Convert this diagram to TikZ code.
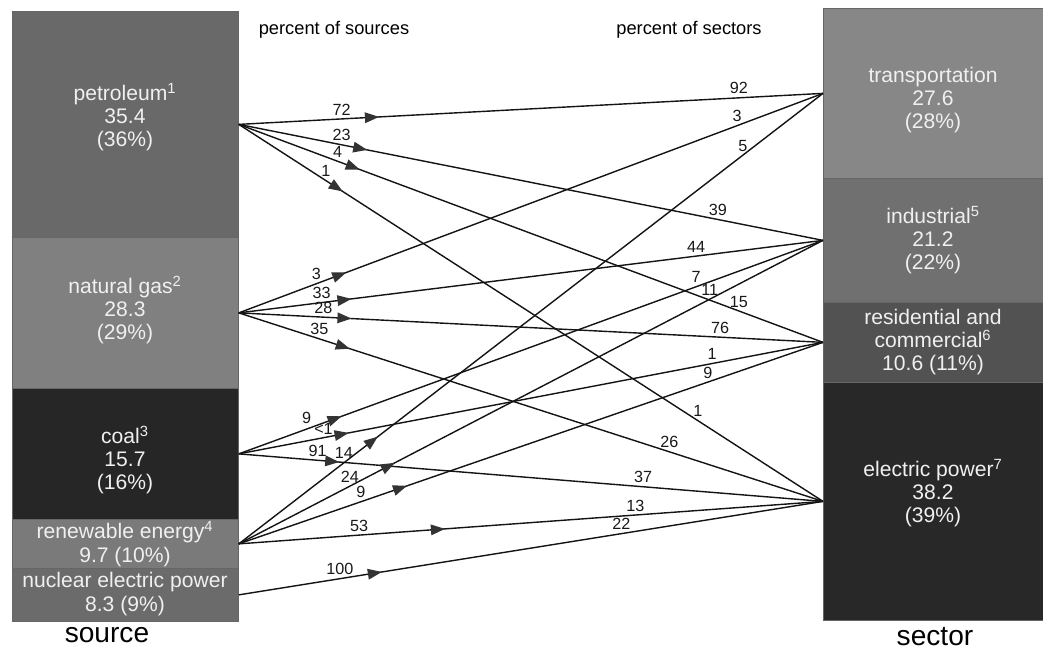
\documentclass[tikz,border=0pt]{standalone}
\usepackage{fontspec}
\setmainfont{Liberation Sans}
\usetikzlibrary{arrows.meta,decorations.markings}

\definecolor{petrolgray}{gray}{0.41}
\definecolor{gasgray}{gray}{0.50}
\definecolor{coalgray}{gray}{0.15}
\definecolor{renewgray}{gray}{0.48}
\definecolor{nucleargray}{gray}{0.42}
\definecolor{transgray}{gray}{0.53}
\definecolor{industgray}{gray}{0.44}
\definecolor{residgray}{gray}{0.32}
\definecolor{elecgray}{gray}{0.155}

\tikzset{
	block/.style={draw=black!60, line width=0.5pt, inner sep=0pt, anchor=north west},
	blocktext/.style={text=white!94!black, align=center, font=\fontsize{15}{16.5}\selectfont},
	link/.style={draw=black!92, line width=1pt},
	arrowat/.style={postaction={decorate}, decoration={markings,
		mark=at position #1 with {\arrow[black!80]{Triangle[length=10pt,width=7.5pt]}}}},
	share/.style={font=\fontsize{11.5}{13}\selectfont, above, inner sep=2.2pt, text=black!90},
	heading/.style={font=\fontsize{13}{15}\selectfont},
	axistitle/.style={font=\fontsize{20}{24}\selectfont}
}

\begin{document}
\begin{tikzpicture}[x=0.025cm, y=-0.025cm]
		\useasboundingbox (0,0) rectangle (1043,651);

		% source column
		\node[block, fill=petrolgray, minimum width=5.65cm, minimum height=5.65cm] (petroleum) at (12,11) {};
		\node[block, fill=gasgray, minimum width=5.65cm, minimum height=3.775cm] (gas) at (12,237) {};
		\node[block, fill=coalgray, minimum width=5.65cm, minimum height=3.275cm] (coal) at (12,388) {};
		\node[block, fill=renewgray, minimum width=5.65cm, minimum height=1.225cm] (renewable) at (12,519) {};
		\node[block, fill=nucleargray, minimum width=5.65cm, minimum height=1.325cm] (nuclear) at (12,568) {};

		\node[blocktext] (petroleum-text) at (125,117) {petroleum\textsuperscript{1}\\35.4\\(36\%)};
		\node[blocktext] (gas-text) at (125,310) {natural gas\textsuperscript{2}\\28.3\\(29\%)};
		\node[blocktext] (coal-text) at (125,460) {coal\textsuperscript{3}\\15.7\\(16\%)};
		\node[blocktext] (renewable-text) at (125,544) {renewable energy\textsuperscript{4}\\9.7 (10\%)};
		\node[blocktext] (nuclear-text) at (125,594) {nuclear electric power\\8.3 (9\%)};

		% sector column
		\node[block, fill=transgray, minimum width=5.5cm, minimum height=4.25cm] (transportation) at (823,8) {};
		\node[block, fill=industgray, minimum width=5.5cm, minimum height=3.1cm] (industrial) at (823,178) {};
		\node[block, fill=residgray, minimum width=5.5cm, minimum height=2cm] (residential) at (823,302) {};
		\node[block, fill=elecgray, minimum width=5.5cm, minimum height=5.95cm] (electric) at (823,382) {};

		\node[blocktext] (transportation-text) at (933,100) {transportation\\27.6\\(28\%)};
		\node[blocktext] (industrial-text) at (933,240) {industrial\textsuperscript{5}\\21.2\\(22\%)};
		\node[blocktext] (residential-text) at (933,342) {residential and\\commercial\textsuperscript{6}\\10.6 (11\%)};
		\node[blocktext] (electric-text) at (933,493) {electric power\textsuperscript{7}\\38.2\\(39\%)};

		% titles
		\node[heading] (sources-title) at (334,30) {percent of sources};
		\node[heading] (sectors-title) at (689,30) {percent of sectors};
		\node[axistitle] (source-title) at (107,635) {source};
		\node[axistitle] (sector-title) at (935,637) {sector};

		% petroleum
		\draw[link, arrowat=0.24] (petroleum.east) -- node[share, pos=0.176] (pt-a) {72} node[share, pos=0.856] (pt-b) {92} (transportation.west);
		\draw[link, arrowat=0.22] (petroleum.east) -- node[share, pos=0.176] (pi-a) {23} node[share, pos=0.82] (pi-b) {39} (industrial.west);
		\draw[link, arrowat=0.207] (petroleum.east) -- node[share, pos=0.169] (pr-a) {4} node[share, pos=0.856] (pr-b) {15} (residential.west);
		\draw[link, arrowat=0.178] (petroleum.east) -- node[share, pos=0.149] (pe-a) {1} node[share, pos=0.786] (pe-b) {1} (electric.west);
		% natural gas
		\draw[link, arrowat=0.184] (gas.east) -- node[share, pos=0.133] (gt-a) {3} node[share, pos=0.853] (gt-b) {3} (transportation.west);
		\draw[link, arrowat=0.193] (gas.east) -- node[share, pos=0.142] (gi-a) {33} node[share, pos=0.783] (gi-b) {44} (industrial.west);
		\draw[link, arrowat=0.193] (gas.east) -- node[share, pos=0.145] (gr-a) {28} node[share, pos=0.824] (gr-b) {76} (residential.west);
		\draw[link, arrowat=0.19] (gas.east) -- node[share, pos=0.138] (ge-a) {35} node[share, pos=0.737] (ge-b) {26} (electric.west);
		% coal
		\draw[link, arrowat=0.176] (coal.east) -- node[share, pos=0.116, yshift=1.5pt] (ci-a) {9} node[share, pos=0.783] (ci-b) {7} (industrial.west);
		\draw[link, arrowat=0.188] (coal.east) -- node[share, pos=0.145, inner sep=1.6pt] (cr-a) {<1} node[share, pos=0.81] (cr-b) {1} (residential.west);
		\draw[link, arrowat=0.172] (coal.east) -- node[share, pos=0.135] (ce-a) {91} node[share, pos=0.692] (ce-b) {37} (electric.west);
		% renewable energy
		\draw[link, arrowat=0.238] (renewable.east) -- node[share, pos=0.18] (rt-a) {14} node[share, pos=0.863] (rt-b) {5} (transportation.west);
		\draw[link, arrowat=0.267] (renewable.east) -- node[share, pos=0.19] (ri-a) {24} node[share, pos=0.806] (ri-b) {11} (industrial.west);
		\draw[link, arrowat=0.288] (renewable.east) -- node[share, pos=0.209] (rr-a) {9} node[share, pos=0.803] (rr-b) {9} (residential.west);
		\draw[link, arrowat=0.353] (renewable.east) -- node[share, pos=0.206] (re-a) {53} node[share, pos=0.679] (re-b) {13} (electric.west);
		% nuclear electric power
		\draw[link, arrowat=0.245] (nuclear.east) -- node[share, pos=0.173] (ne-a) {100} node[share, pos=0.655] (ne-b) {22} (electric.west);
	\end{tikzpicture}
\end{document}
